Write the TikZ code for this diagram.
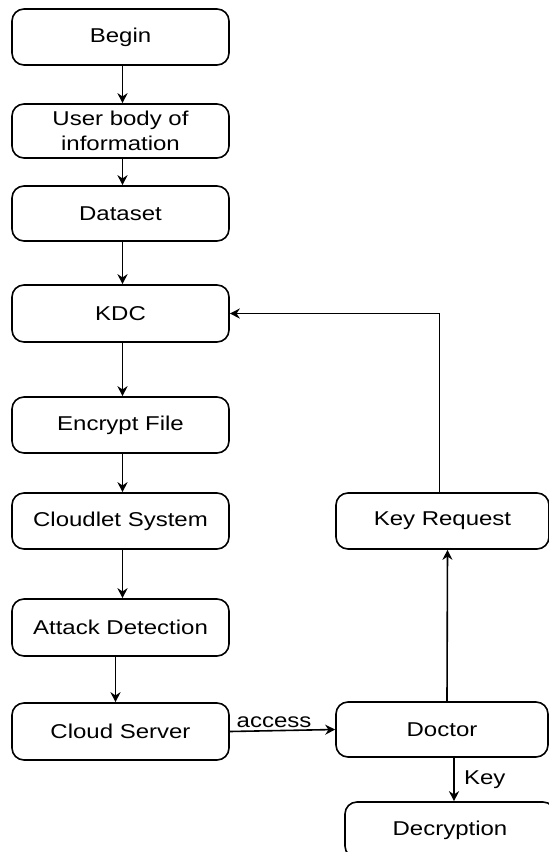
\documentclass[tikz,border=0pt]{standalone}
\usepackage{fontspec}
\setmainfont{Liberation Sans}
\usepackage{graphicx}
\usetikzlibrary{arrows.meta}

\newcommand{\wtext}[1]{\scalebox{1.2}[1]{#1}}

\begin{document}
\begin{tikzpicture}[x=1pt,y=-1pt,
    stepbox/.style={draw,line width=1.6pt,rounded corners=12pt,minimum width=217pt,minimum height=56pt,align=center,inner sep=0pt,font=\fontsize{20}{25}\selectfont},
    arr/.style={line width=1.6pt,-{Stealth[length=10pt,width=10pt]}},
    lbl/.style={font=\fontsize{20}{24}\selectfont}]
    \useasboundingbox (0,0) rectangle (549,852);
    \clip (0,0) rectangle (549,852);

    %left column
    \node[stepbox] (begin) at (120.5,37) {\wtext{Begin}};
    \node[stepbox,minimum height=54pt] (user) at (120.5,131) {\wtext{User body of}\\\wtext{information}};
    \node[stepbox,minimum height=55pt] (dataset) at (120.5,213.5) {\wtext{Dataset}};
    \node[stepbox,minimum height=57pt] (kdc) at (120.5,313.5) {\wtext{KDC}};
    \node[stepbox] (encrypt) at (120.5,425) {\wtext{Encrypt File}};
    \node[stepbox] (cloudlet) at (120.5,521) {\wtext{Cloudlet System}};
    \node[stepbox,minimum height=57pt] (attack) at (120.5,627.5) {\wtext{Attack Detection}};
    \node[stepbox,minimum height=57pt] (cloud) at (120.5,731.5) {\wtext{Cloud Server}};

    %right column
    \node[stepbox,minimum width=213pt] (keyreq) at (442.5,521) {\wtext{Key Request}};
    \node[stepbox,minimum width=212pt,minimum height=55pt] (doctor) at (442,729.5) {\wtext{Doctor}};
    \node[stepbox,minimum width=210pt] (decrypt) at (450,830) {\wtext{Decryption}};

    %arrows
    \draw[arr] ([xshift=2pt]begin.south) -- ([xshift=2pt]user.north);
    \draw[arr] ([xshift=2pt]user.south) -- ([xshift=2pt]dataset.north);
    \draw[arr] ([xshift=2pt]dataset.south) -- ([xshift=2pt]kdc.north);
    \draw[arr] ([xshift=2pt]kdc.south) -- ([xshift=2pt]encrypt.north);
    \draw[arr] ([xshift=2pt]encrypt.south) -- ([xshift=2pt]cloudlet.north);
    \draw[arr] ([xshift=2pt]cloudlet.south) -- ([xshift=2pt]attack.north);
    \draw[arr] ([xshift=-5pt,yshift=2pt]attack.south) -- ([xshift=-5pt]cloud.north);
    \draw[arr] (cloud.east) -- (doctor.west) node[lbl,pos=0.42,above,yshift=-1pt] {\wtext{access}};
    \draw[arr] ([xshift=5pt]doctor.north) -- ([xshift=5pt]keyreq.south);
    \draw[arr] ([xshift=-3pt]keyreq.north) |- (kdc.east);
    \draw[arr] ([xshift=12pt]doctor.south) -- ([xshift=12pt]doctor.south |- decrypt.north) node[lbl,midway,right,xshift=6pt] {\wtext{Key}};
\end{tikzpicture}
\end{document}
